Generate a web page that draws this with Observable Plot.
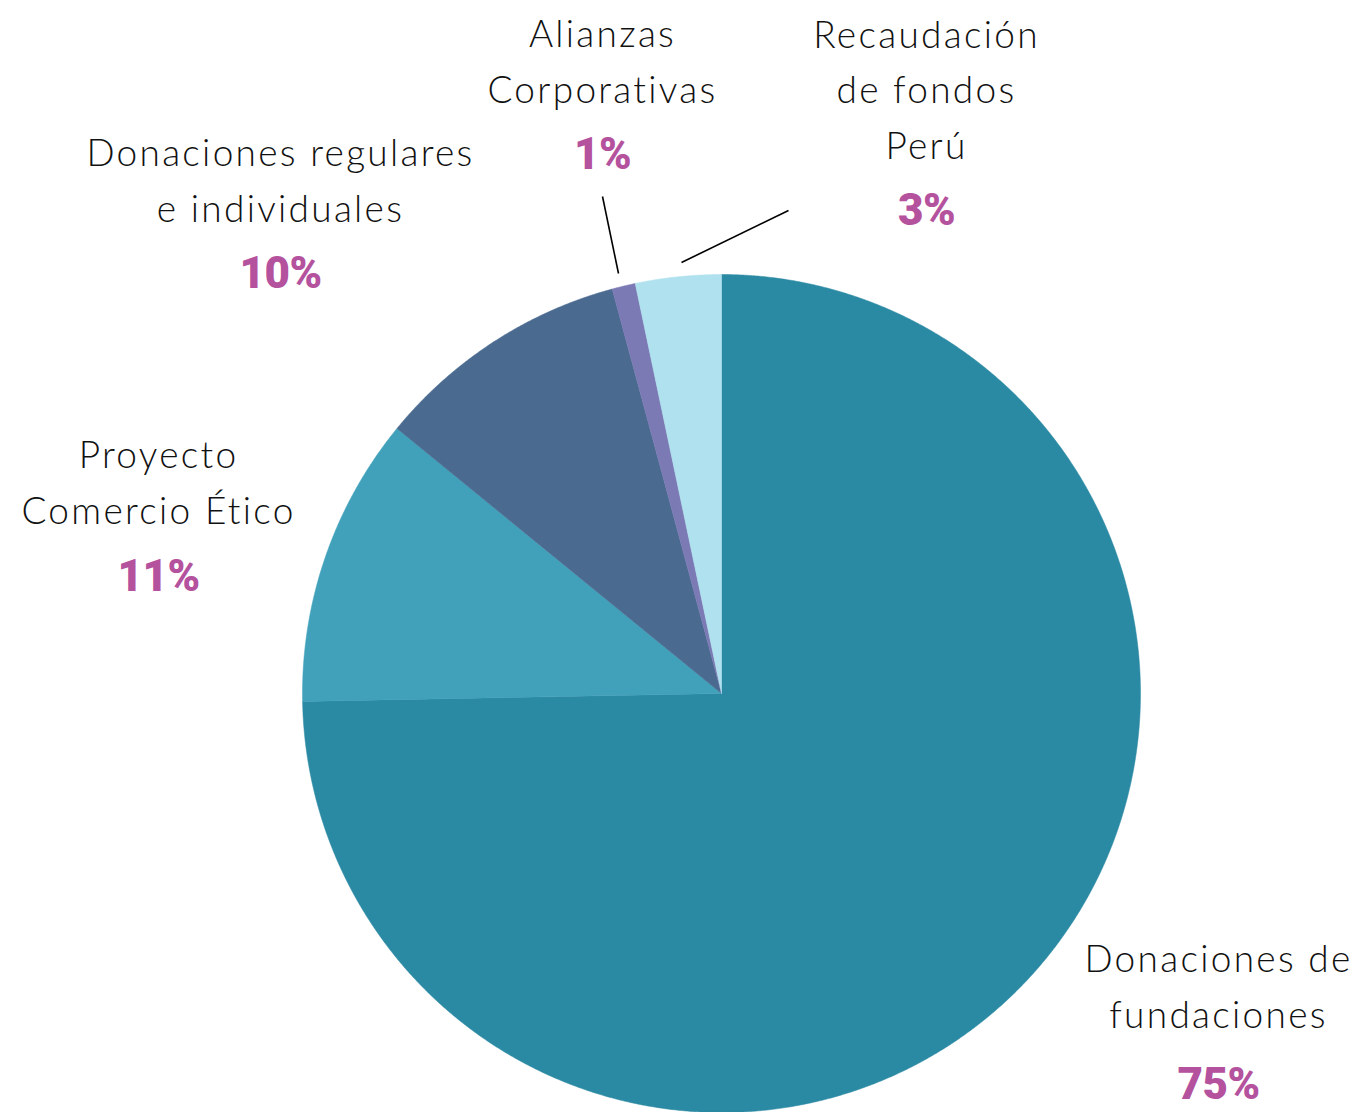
<!DOCTYPE html>
<html>
<head>
<meta charset="utf-8">
<script src="https://cdn.jsdelivr.net/npm/d3@7"></script>
<script src="https://cdn.jsdelivr.net/npm/@observablehq/plot@0.6"></script>
<style>
  html, body { margin: 0; padding: 0; background: #fff; }
  #chart svg { display: block; }
</style>
</head>
<body>
<div id="chart"></div>
<script>
// ---- Data ----
const categories = [
  "Donaciones de\nfundaciones",
  "Proyecto\nComercio Ético",
  "Donaciones regulares\ne individuales",
  "Alianzas\nCorporativas",
  "Recaudación\nde fondos\nPerú"
];
const values = [74.7, 11.2, 9.9, 0.9, 3.3];
const colors = ["#2a89a3", "#41a1bb", "#4a6a90", "#7b7ab5", "#afe1ee"];

// ---- Layout (pixels in a 1360x1112 frame) ----
const W = 1360, H = 1112, CX = 721, CY = 693, R = 419;
const labelLayout = [
  {x: 1218, name: 1027, pct: 1098},
  {x: 158,  name: 523,  pct: 590},
  {x: 280,  name: 221,  pct: 287},
  {x: 602,  name: 102,  pct: 168},
  {x: 926,  name: 158,  pct: 224}
];
const leaderLayout = [
  {x1: 602, y1: 196, x2: 618, y2: 273},
  {x1: 788, y1: 210, x2: 681, y2: 262}
];
const ux = px => (px - CX) / R;
const uy = py => (CY - py) / R;

// ---- Build slices ----
const arcs = d3.pie().sort(null).value(d => d)(values);
const slicePts = [];
arcs.forEach((a, i) => {
  const cat = categories[i];
  slicePts.push({cat, x: 0, y: 0});
  const n = Math.max(2, Math.ceil((a.endAngle - a.startAngle) / (Math.PI / 720)));
  for (let k = 0; k <= n; k++) {
    const t = a.startAngle + (a.endAngle - a.startAngle) * k / n;
    slicePts.push({cat, x: Math.sin(t), y: Math.cos(t)});
  }
  slicePts.push({cat, x: 0, y: 0});
});

const labels = categories.map((c, i) => ({
  name: c,
  pct: Math.round(values[i]) + "%",
  x: ux(labelLayout[i].x),
  yName: uy(labelLayout[i].name),
  yPct: uy(labelLayout[i].pct)
}));
const leaders = leaderLayout.map(d => ({
  x1: ux(d.x1), y1: uy(d.y1), x2: ux(d.x2), y2: uy(d.y2)
}));

const chart = Plot.plot({
  width: W,
  height: H,
  margin: 0,
  x: {domain: [ux(0), ux(W)], axis: null},
  y: {domain: [uy(H), uy(0)], axis: null},
  color: {domain: categories, range: colors},
  marks: [
    Plot.line(slicePts, {x: "x", y: "y", z: "cat", fill: "cat", stroke: "cat", strokeWidth: 0.5, curve: "linear"}),
    Plot.link(leaders, {x1: "x1", y1: "y1", x2: "x2", y2: "y2", stroke: "#000", strokeWidth: 1.6}),
    Plot.text(labels, {
      x: "x", y: "yName", text: "name",
      lineAnchor: "bottom", lineHeight: 1.5, textAnchor: "middle",
      fontFamily: "Lato", fontWeight: 300, fontSize: 37, fill: "#111"
    }),
    Plot.text(labels, {
      x: "x", y: "yPct", text: "pct",
      lineAnchor: "bottom", textAnchor: "middle",
      fontFamily: "Roboto", fontWeight: 900, fontSize: 44, fill: "#b5529e"
    })
  ]
});
chart.querySelectorAll("text").forEach(t => {
  const g = t.closest("g[font-family]");
  const fam = g ? g.getAttribute("font-family") : "";
  if (fam === "Lato") t.style.letterSpacing = "2.3px";
  else if (fam === "Roboto") t.style.letterSpacing = "-0.5px";
});
document.getElementById("chart").appendChild(chart);
</script>
</body>
</html>
